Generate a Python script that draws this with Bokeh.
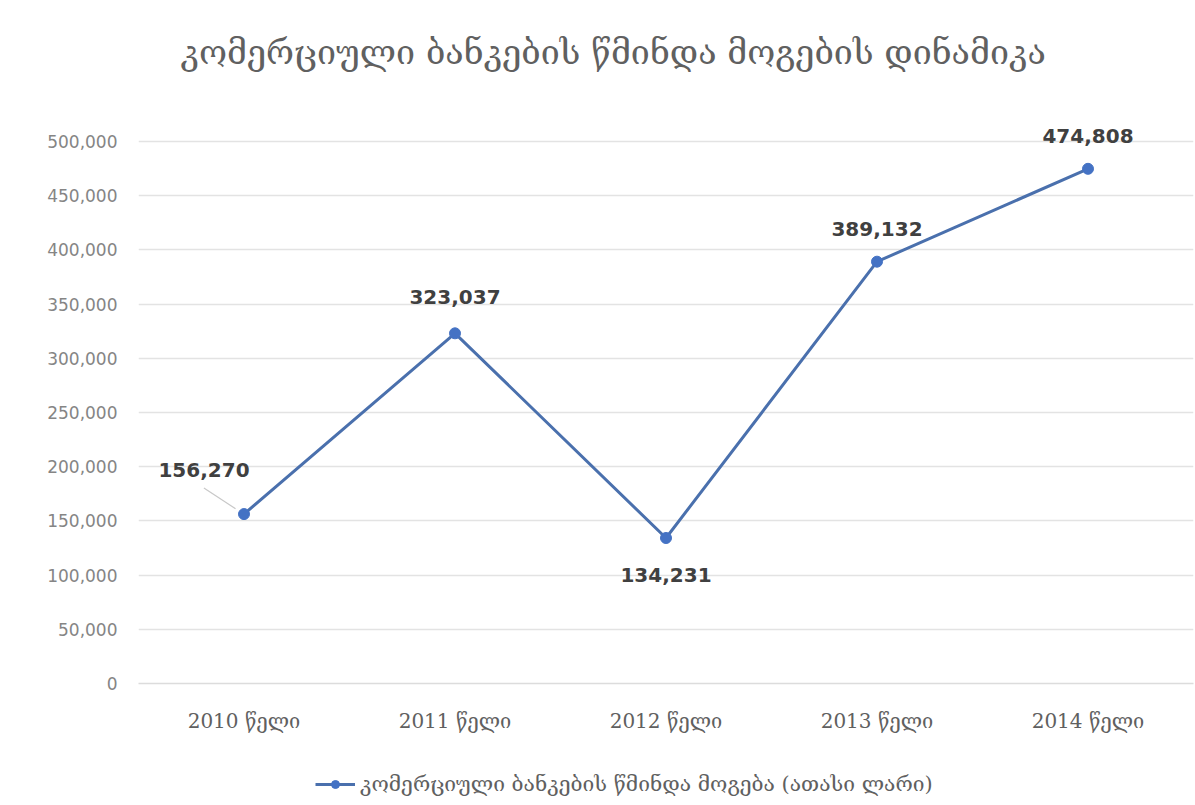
from bokeh.plotting import figure
from bokeh.layouts import column
from bokeh.models import (ColumnDataSource, NumeralTickFormatter, FixedTicker,
                          Legend, LegendItem, Range1d)
from bokeh.core.properties import value
from bokeh.embed import file_html
from bokeh.resources import INLINE

title = "კომერციული ბანკების წმინდა მოგების დინამიკა"
categories = ["2010 წელი", "2011 წელი", "2012 წელი", "2013 წელი", "2014 წელი"]
profit = [156270, 323037, 134231, 389132, 474808]
series_name = "კომერციული ბანკების წმინდა მოგება (ათასი ლარი)"
y_ticks = [0, 50000, 100000, 150000, 200000, 250000, 300000, 350000, 400000, 450000, 500000]

# label placement (screen px offsets)
lab_dx = [-40, 0, 0, 0, 0]
lab_dy = [-44, -36, 37, -33, -33]

LINE_COLOR = "#4a70ad"
MARK_COLOR = "#4472C4"

xs = list(range(len(categories)))
labels = [f"{v:,}" for v in profit]
src = ColumnDataSource(dict(x=xs, y=profit, lab=labels, dx=lab_dx, dy=lab_dy))

# frame spans y=100..683 px; top gridline (500,000) must sit at y=141
frame_top, grid_top, frame_bottom, main_h = 100, 141, 683, 755
frame_left = 138
y_max = y_ticks[-1] * (frame_bottom - frame_top) / (frame_bottom - grid_top)

p = figure(width=1195, height=main_h, output_backend="svg", toolbar_location=None,
           x_range=Range1d(-0.5, len(categories) - 0.5), y_range=Range1d(0, y_max),
           min_border_left=frame_left, min_border_right=2, min_border_top=frame_top,
           min_border_bottom=main_h - frame_bottom)
p.outline_line_color = None
p.background_fill_color = "white"
p.border_fill_color = "white"

p.xgrid.grid_line_color = None
p.ygrid.grid_line_color = "#e3e3e3"
p.ygrid.grid_line_width = 1.5

p.yaxis.ticker = FixedTicker(ticks=y_ticks)
p.yaxis.formatter = NumeralTickFormatter(format="0,0")
p.yaxis.axis_line_color = None
p.yaxis.major_tick_line_color = None
p.yaxis.minor_tick_line_color = None
p.yaxis.major_label_text_font = "DejaVu Sans"
p.yaxis.major_label_text_font_size = "17px"
p.yaxis.major_label_text_color = "#858585"
p.yaxis.major_label_standoff = 15

p.xaxis.ticker = FixedTicker(ticks=xs)
p.xaxis.major_label_overrides = {i: c for i, c in enumerate(categories)}
p.xaxis.axis_line_color = "#dcdcdc"
p.xaxis.axis_line_width = 1.5
p.xaxis.major_tick_line_color = None
p.xaxis.minor_tick_line_color = None
p.xaxis.major_label_text_font = "DejaVu Serif"
p.xaxis.major_label_text_font_size = "20px"
p.xaxis.major_label_text_color = "#606060"
p.xaxis.major_label_standoff = 19

p.line("x", "y", source=src, line_color=LINE_COLOR, line_width=3)
p.scatter("x", "y", source=src, size=11, fill_color=MARK_COLOR, line_color=MARK_COLOR)

# leader line for first label
p.segment(x0=[xs[0] - 0.19], y0=[profit[0] + 24000], x1=[xs[0] - 0.04], y1=[profit[0] + 5000],
          line_color="#c8c8c8", line_width=1.2)

p.text("x", "y", text="lab", source=src, x_offset="dx", y_offset="dy",
       text_align="center", text_baseline="middle",
       text_font=value("DejaVu Sans"), text_font_style="bold",
       text_font_size="20px", text_color="#404040")

p.title.text = title
p.title.align = "left"
p.title.text_font = "DejaVu Serif"
p.title.text_font_style = "normal"
p.title.text_font_size = "34px"
p.title.text_color = "#606060"
p.title.offset = 42
p.title.standoff = 58

# legend strip below the chart (its series is drawn off-view; only the key shows)
leg_h = 805 - main_h
p2 = figure(width=1195, height=leg_h, output_backend="svg", toolbar_location=None,
            x_range=Range1d(-0.5, len(categories) - 0.5), y_range=Range1d(-2, -1),
            min_border_left=0, min_border_right=0, min_border_top=0, min_border_bottom=0)
p2.axis.visible = False
p2.grid.visible = False
p2.outline_line_color = None
p2.border_fill_color = "white"
l2 = p2.line("x", "y", source=src, line_color=LINE_COLOR, line_width=3)
s2 = p2.scatter("x", "y", source=src, size=11, fill_color=MARK_COLOR, line_color=MARK_COLOR)
legend = Legend(items=[LegendItem(label=series_name, renderers=[l2, s2])],
                location=(315 - frame_left, 9), orientation="horizontal",
                label_text_font="DejaVu Serif", label_text_font_size="21px",
                label_text_color="#606060", border_line_color=None,
                background_fill_alpha=0, glyph_width=40, margin=0, padding=4)
p2.add_layout(legend, "center")

layout = column(p, p2, spacing=0)
open("out.html", "w").write(file_html(layout, INLINE))
